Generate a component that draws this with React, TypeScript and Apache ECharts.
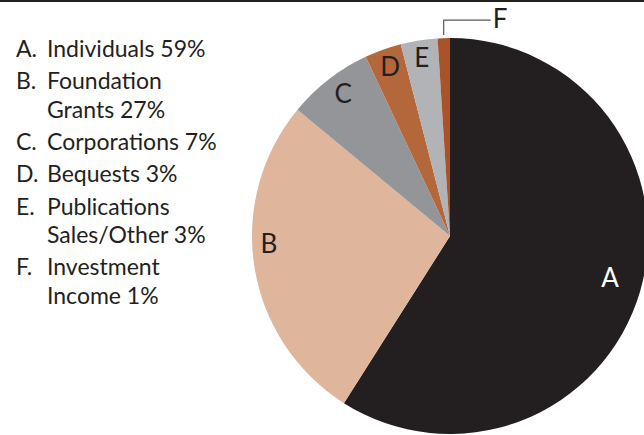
import { useEffect, useRef } from 'react';
import * as echarts from 'echarts';

// Sources of support, share of total (%)
const letters = ['A', 'B', 'C', 'D', 'E', 'F'];
const categoryLines = [
  ['Individuals'],
  ['Foundation', 'Grants'],
  ['Corporations'],
  ['Bequests'],
  ['Publications', 'Sales/Other'],
  ['Investment', 'Income'],
];
const shares = [59, 27, 7, 3, 3, 1];
const sliceColors = ['#231f20', '#dfb59b', '#939598', '#b5673c', '#b1b3b6', '#a8532a'];

const categoryNames = categoryLines.map((l) => l.join(' '));

const INK = '#231f20';
const FONT = 'Lato, "Noto Sans", sans-serif';
const CX = 450;
const CY = 236;
const R = 198;

// Radius (fraction of R) and angular nudge (degrees) for the letters drawn inside slices
const insideSpots = [
  { r: 0.835, turn: -1.8 },
  { r: 0.915, turn: 6.8 },
  { r: 0.9, turn: 1 },
  { r: 0.91, turn: 0.4 },
  { r: 0.915, turn: 0 },
];

const total = shares.reduce((a, b) => a + b, 0);

// Mid-angle of a slice, degrees clockwise from 12 o'clock
function midAngle(i: number): number {
  let before = 0;
  for (let j = 0; j < i; j++) before += shares[j];
  return ((before + shares[i] / 2) / total) * 360;
}

function polar(deg: number, r: number): [number, number] {
  const rad = (deg * Math.PI) / 180;
  return [CX + r * Math.sin(rad), CY - r * Math.cos(rad)];
}

function legendText(name: string): string {
  const i = categoryNames.indexOf(name);
  const lines = categoryLines[i].slice();
  lines[lines.length - 1] += ` ${shares[i]}%`;
  return lines
    .map((t, k) => `{k|${k === 0 ? letters[i] + '.' : ' '}}{v|${t}}`)
    .join('\n');
}

export default function App() {
  const ref = useRef<HTMLDivElement>(null);

  useEffect(() => {
    if (!ref.current) return;
    const chart = echarts.init(ref.current, undefined, { renderer: 'svg' });

    const textBase = { fontFamily: FONT, fontSize: 23, color: INK, lineHeight: 28.3 };

    chart.setOption({
      animation: false,
      backgroundColor: '#ffffff',
      graphic: [
        {
          type: 'rect',
          left: 0,
          top: 0,
          shape: { x: 0, y: 0, width: 644, height: 2 },
          style: { fill: INK },
          silent: true,
        },
      ],
      legend: {
        orient: 'vertical',
        left: 6,
        top: 29,
        icon: 'none',
        itemWidth: 0,
        itemHeight: 0,
        itemGap: 4,
        selectedMode: false,
        data: categoryNames,
        formatter: legendText,
        textStyle: {
          ...textBase,
          rich: {
            k: { ...textBase, width: 31 },
            v: { ...textBase },
          },
        },
      },
      series: [
        {
          type: 'pie',
          center: [CX, CY],
          radius: R,
          startAngle: 90,
          clockwise: true,
          avoidLabelOverlap: false,
          silent: true,
          emphasis: { disabled: true },
          itemStyle: { borderWidth: 0 },
          label: {
            show: true,
            formatter: (p: any) => letters[p.dataIndex],
            fontFamily: FONT,
            fontSize: 26,
            color: INK,
          },
          labelLine: {
            show: false,
            length: 10,
            length2: 10,
            lineStyle: { color: '#58595b', width: 1.2 },
          },
          labelLayout: (p: any) => {
            const i = p.dataIndex;
            if (i < insideSpots.length) {
              const s = insideSpots[i];
              const [x, y] = polar(midAngle(i) + s.turn, s.r * R);
              return { x, y, align: 'center', verticalAlign: 'middle' };
            }
            const [ex, ey] = polar(midAngle(i), R + 3);
            const elbowY = ey - 15;
            return {
              x: ex + 49,
              y: elbowY - 2,
              align: 'left',
              verticalAlign: 'middle',
              labelLinePoints: [
                [ex, ey],
                [ex, elbowY],
                [ex + 47, elbowY],
              ],
            };
          },
          data: shares.map((v, i) => ({
            name: categoryNames[i],
            value: v,
            itemStyle: { color: sliceColors[i] },
            label: {
              position: i < insideSpots.length ? 'inside' : 'outside',
              color: i === 0 ? '#ffffff' : INK,
            },
            labelLine: { show: i >= insideSpots.length },
          })),
        },
      ],
    });

    return () => chart.dispose();
  }, []);

  return (
    <div
      ref={ref}
      style={{ position: 'fixed', left: 0, top: 0, width: 644, height: 435, background: '#fff' }}
    />
  );
}
